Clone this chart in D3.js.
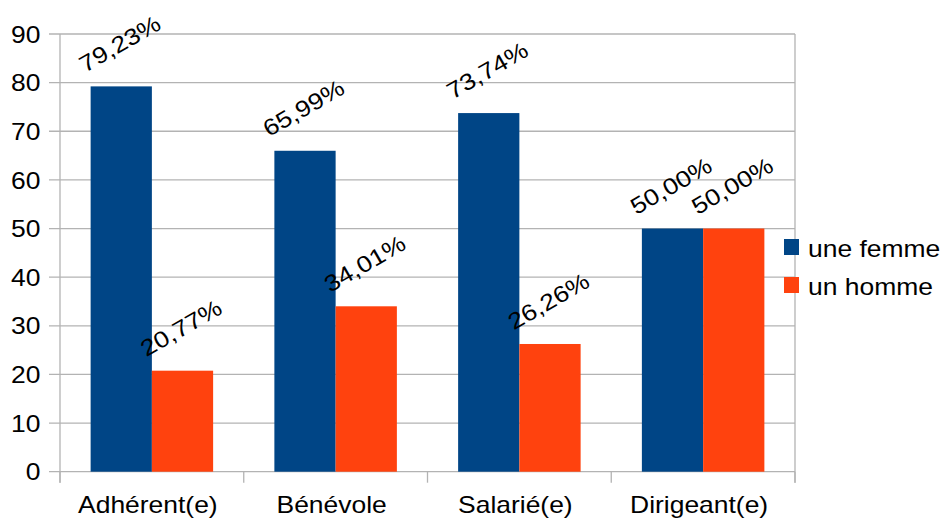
<!DOCTYPE html>
<html>
<head>
<meta charset="utf-8">
<script src="https://cdn.jsdelivr.net/npm/d3@7"></script>
<style>
  body { margin: 0; background: #fff; }
  svg { display: block; font-family: "Liberation Sans", Arial, sans-serif; }
</style>
</head>
<body>
<div id="chart"></div>
<script>
const categories = ['Adhérent(e)', 'Bénévole', 'Salarié(e)', 'Dirigeant(e)'];
const seriesNames = ['une femme', 'un homme'];
const femme = [79.23, 65.99, 73.74, 50.00];
const homme = [20.77, 34.01, 26.26, 50.00];
const yTicks = [0, 10, 20, 30, 40, 50, 60, 70, 80, 90];
const colors = ['#004586', '#ff420e'];

const W = 944, H = 518;
const plot = { left: 60, right: 795, top: 34, bottom: 471.7 };
const fs = 23, sx = 1.15;   // text in the reference is a bit wider than Liberation Sans
const grey = '#b3b3b3';

const svg = d3.select('#chart').append('svg').attr('width', W).attr('height', H);

const x = d3.scaleBand().domain(categories).range([plot.left, plot.right]);
const xs = d3.scaleBand().domain([0, 1]).range([0, x.bandwidth()]).paddingOuter(0.5);
const y = d3.scaleLinear().domain([0, 90]).range([plot.bottom, plot.top]);

// grid + y ticks
svg.append('g').selectAll('line').data(yTicks).join('line')
  .attr('x1', plot.left - 11).attr('x2', plot.right)
  .attr('y1', (d) => y(d)).attr('y2', (d) => y(d))
  .attr('stroke', grey).attr('stroke-width', 1.3);

svg.append('g').selectAll('text').data(yTicks).join('text')
  .attr('transform', (d) => `translate(40.5,${y(d) + 8.6}) scale(${sx},1)`)
  .attr('text-anchor', 'end').attr('font-size', fs).attr('fill', '#000')
  .text((d) => d);

// left axis, right border, category separators
const seps = categories.map((c) => x(c)).concat([plot.right]);
svg.append('line').attr('x1', plot.left).attr('x2', plot.left)
  .attr('y1', plot.top).attr('y2', plot.bottom + 11).attr('stroke', grey).attr('stroke-width', 1.3);
svg.append('line').attr('x1', plot.right).attr('x2', plot.right)
  .attr('y1', plot.top).attr('y2', plot.bottom + 11).attr('stroke', grey).attr('stroke-width', 1.3);
svg.append('g').selectAll('line').data(seps).join('line')
  .attr('x1', (d) => d).attr('x2', (d) => d)
  .attr('y1', plot.bottom).attr('y2', plot.bottom + 11)
  .attr('stroke', grey).attr('stroke-width', 1.3);

svg.append('g').selectAll('text').data(categories).join('text')
  .attr('transform', (d) => `translate(${x(d) + x.bandwidth() / 2 - 4},513) scale(${sx},1)`)
  .attr('text-anchor', 'middle').attr('font-size', fs).attr('fill', '#000')
  .text((d) => d);

// bars
const series = [femme, homme];
const fmt = (v) => v.toFixed(2).replace('.', ',') + '%';

series.forEach((vals, si) => {
  const g = svg.append('g');
  g.selectAll('rect').data(vals).join('rect')
    .attr('x', (d, i) => x(categories[i]) + xs(si))
    .attr('width', xs.bandwidth())
    .attr('y', (d) => y(d))
    .attr('height', (d) => y(0) - y(d))
    .attr('fill', colors[si]);

  g.selectAll('text').data(vals).join('text')
    .attr('transform', (d, i) => {
      const cx = x(categories[i]) + xs(si) + xs.bandwidth() / 2 - 1.5;
      const cy = y(d) - 43;
      return `translate(${cx},${cy}) rotate(-30) scale(${sx},1)`;
    })
    .attr('dy', '0.36em')
    .attr('text-anchor', 'middle').attr('font-size', fs).attr('fill', '#000')
    .text(fmt);
});

// legend
const leg = svg.append('g').selectAll('g').data(seriesNames).join('g')
  .attr('transform', (d, i) => `translate(784,${239 + i * 38})`);
leg.append('rect').attr('width', 15).attr('height', 16).attr('fill', (d, i) => colors[i]);
leg.append('text')
  .attr('transform', `translate(24,17.5) scale(${sx},1)`)
  .attr('font-size', fs).attr('fill', '#000')
  .text((d) => d);
</script>
</body>
</html>
